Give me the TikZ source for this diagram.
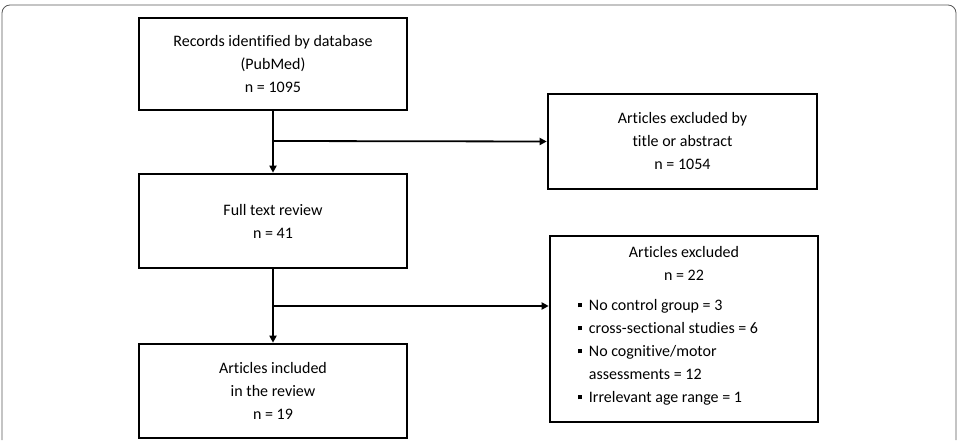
\documentclass[tikz,border=0pt]{standalone}
\usepackage{fontspec}
\setmainfont[Ligatures=NoCommon]{Carlito}
\usetikzlibrary{arrows.meta}
\begin{document}
\begin{tikzpicture}[x=1pt,y=-1pt,
  fnt/.style={font=\fontsize{16}{23}\selectfont},
  box/.style={draw,line width=2.6pt,align=center,fnt,inner sep=0pt},
  arr/.style={line width=1.8pt,-{Triangle[length=7pt,width=7pt]}}]
\useasboundingbox (0,0) rectangle (959,446);
\draw[gray!70!black,line width=0.8pt,rounded corners=8pt] (2,440) -- (2,5) -- (956,5) -- (956,440);
\node[box,minimum width=268pt,minimum height=92pt] (a) at (273,64) {Records identified by database\\(PubMed)\\n = 1095};
\node[box,minimum width=269pt,minimum height=95pt] (b) at (682.5,141.5) {Articles excluded by\\title or abstract\\n = 1054};
\node[box,minimum width=268pt,minimum height=94pt] (c) at (273,221) {Full text review\\n = 41};
\node[box,minimum width=268pt,minimum height=186pt] (d) at (684,329) {};
\node[fnt,align=center,anchor=north] (dt) at (684,243) {Articles excluded\\n = 22};
\node[fnt,align=left,anchor=north west,inner sep=0pt] (dl) at (578,299) {%
\rule[3pt]{3.5pt}{4pt}\ \ No control group = 3\\
\rule[3pt]{3.5pt}{4pt}\ \ cross-sectional studies = 6\\
\rule[3pt]{3.5pt}{4pt}\ \ No cognitive/motor\\
\phantom{\rule{3.5pt}{4pt}\ \ }assessments = 12\\
\rule[3pt]{3.5pt}{4pt}\ \ Irrelevant age range = 1};
\node[box,minimum width=268pt,minimum height=94pt] (e) at (273,391) {Articles included\\in the review\\n = 19};
\coordinate (j1) at (273,141);
\coordinate (j2) at (273,306);
\draw[arr] (a.south) -- (c.north);
\draw[arr] (c.south) -- (e.north);
\draw[arr] (j1) -- (b.west);
\draw[arr] (j2) -- (d.west |- j2);
\end{tikzpicture}
\end{document}
